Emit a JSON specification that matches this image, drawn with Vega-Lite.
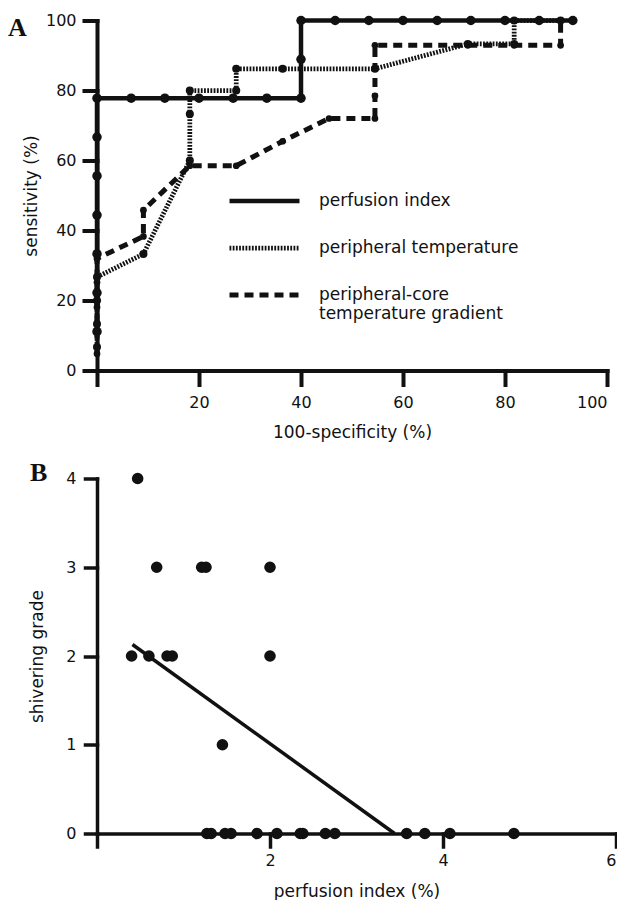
{
  "$schema": "https://vega.github.io/schema/vega-lite/v6.json",
  "background": "white",
  "padding": {"left": 8, "top": 10.5, "right": 0, "bottom": 0},
  "bounds": "flush",
  "spacing": 108,
  "config": {
    "view": {"stroke": null},
    "font": "DejaVu Sans",
    "axis": {
      "grid": false,
      "domainColor": "#111",
      "tickColor": "#111",
      "labelColor": "#111",
      "titleColor": "#111",
      "labelFont": "DejaVu Sans",
      "titleFont": "DejaVu Sans",
      "titleFontWeight": "normal",
      "domainCap": "square",
      "tickCap": "square"
    },
    "title": {"font": "Liberation Serif", "fontWeight": "bold", "fontSize": 26, "color": "#111", "anchor": "start", "frame": "group"}
  },
  "datasets": {
    "roc": [
      {"series": "perfusion index", "k": 1, "fpr": 0, "sens": 11.1},
      {"series": "perfusion index", "k": 2, "fpr": 0, "sens": 22.2},
      {"series": "perfusion index", "k": 3, "fpr": 0, "sens": 33.3},
      {"series": "perfusion index", "k": 4, "fpr": 0, "sens": 44.4},
      {"series": "perfusion index", "k": 5, "fpr": 0, "sens": 55.6},
      {"series": "perfusion index", "k": 6, "fpr": 0, "sens": 66.7},
      {"series": "perfusion index", "k": 7, "fpr": 0, "sens": 77.8},
      {"series": "perfusion index", "k": 8, "fpr": 6.7, "sens": 77.8},
      {"series": "perfusion index", "k": 9, "fpr": 13.3, "sens": 77.8},
      {"series": "perfusion index", "k": 10, "fpr": 20, "sens": 77.8},
      {"series": "perfusion index", "k": 11, "fpr": 26.7, "sens": 77.8},
      {"series": "perfusion index", "k": 12, "fpr": 33.3, "sens": 77.8},
      {"series": "perfusion index", "k": 13, "fpr": 40, "sens": 77.8},
      {"series": "perfusion index", "k": 14, "fpr": 40, "sens": 88.9},
      {"series": "perfusion index", "k": 15, "fpr": 40, "sens": 100},
      {"series": "perfusion index", "k": 16, "fpr": 46.7, "sens": 100},
      {"series": "perfusion index", "k": 17, "fpr": 53.3, "sens": 100},
      {"series": "perfusion index", "k": 18, "fpr": 60, "sens": 100},
      {"series": "perfusion index", "k": 19, "fpr": 66.7, "sens": 100},
      {"series": "perfusion index", "k": 20, "fpr": 73.3, "sens": 100},
      {"series": "perfusion index", "k": 21, "fpr": 80, "sens": 100},
      {"series": "perfusion index", "k": 22, "fpr": 86.7, "sens": 100},
      {"series": "perfusion index", "k": 23, "fpr": 93.3, "sens": 100},
      {"series": "peripheral temperature", "k": 1, "fpr": 0, "sens": 6.7},
      {"series": "peripheral temperature", "k": 2, "fpr": 0, "sens": 13.3},
      {"series": "peripheral temperature", "k": 3, "fpr": 0, "sens": 20},
      {"series": "peripheral temperature", "k": 4, "fpr": 0, "sens": 26.7},
      {"series": "peripheral temperature", "k": 5, "fpr": 9.1, "sens": 33.3},
      {"series": "peripheral temperature", "k": 6, "fpr": 18.2, "sens": 60},
      {"series": "peripheral temperature", "k": 7, "fpr": 18.2, "sens": 73.3},
      {"series": "peripheral temperature", "k": 8, "fpr": 18.2, "sens": 80},
      {"series": "peripheral temperature", "k": 9, "fpr": 27.3, "sens": 80},
      {"series": "peripheral temperature", "k": 10, "fpr": 27.3, "sens": 86.2},
      {"series": "peripheral temperature", "k": 11, "fpr": 36.4, "sens": 86.2},
      {"series": "peripheral temperature", "k": 12, "fpr": 54.5, "sens": 86.2},
      {"series": "peripheral temperature", "k": 13, "fpr": 72.7, "sens": 93.3},
      {"series": "peripheral temperature", "k": 14, "fpr": 81.8, "sens": 93.3},
      {"series": "peripheral temperature", "k": 15, "fpr": 81.8, "sens": 100},
      {"series": "peripheral temperature", "k": 16, "fpr": 90.9, "sens": 100},
      {"series": "peripheral-core temperature gradient", "k": 1, "fpr": 0, "sens": 4.8},
      {"series": "peripheral-core temperature gradient", "k": 2, "fpr": 0, "sens": 18.1},
      {"series": "peripheral-core temperature gradient", "k": 3, "fpr": 0, "sens": 25.2},
      {"series": "peripheral-core temperature gradient", "k": 4, "fpr": 0, "sens": 32},
      {"series": "peripheral-core temperature gradient", "k": 5, "fpr": 9.1, "sens": 38.3},
      {"series": "peripheral-core temperature gradient", "k": 6, "fpr": 9.1, "sens": 45.8},
      {"series": "peripheral-core temperature gradient", "k": 7, "fpr": 18.2, "sens": 58.5},
      {"series": "peripheral-core temperature gradient", "k": 8, "fpr": 27.3, "sens": 58.5},
      {"series": "peripheral-core temperature gradient", "k": 9, "fpr": 36.4, "sens": 65.5},
      {"series": "peripheral-core temperature gradient", "k": 10, "fpr": 45.5, "sens": 72},
      {"series": "peripheral-core temperature gradient", "k": 11, "fpr": 54.5, "sens": 72},
      {"series": "peripheral-core temperature gradient", "k": 12, "fpr": 54.5, "sens": 78.5},
      {"series": "peripheral-core temperature gradient", "k": 13, "fpr": 54.5, "sens": 92.9},
      {"series": "peripheral-core temperature gradient", "k": 14, "fpr": 72.7, "sens": 92.9},
      {"series": "peripheral-core temperature gradient", "k": 15, "fpr": 81.8, "sens": 92.9},
      {"series": "peripheral-core temperature gradient", "k": 16, "fpr": 90.9, "sens": 92.9},
      {"series": "peripheral-core temperature gradient", "k": 17, "fpr": 90.9, "sens": 100}
    ],
    "shiver": [
      {"pi": 0.47, "grade": 4},
      {"pi": 0.69, "grade": 3},
      {"pi": 1.21, "grade": 3},
      {"pi": 1.26, "grade": 3},
      {"pi": 2.0, "grade": 3},
      {"pi": 0.4, "grade": 2},
      {"pi": 0.6, "grade": 2},
      {"pi": 0.81, "grade": 2},
      {"pi": 0.87, "grade": 2},
      {"pi": 2.0, "grade": 2},
      {"pi": 1.45, "grade": 1},
      {"pi": 1.27, "grade": 0},
      {"pi": 1.32, "grade": 0},
      {"pi": 1.48, "grade": 0},
      {"pi": 1.55, "grade": 0},
      {"pi": 1.85, "grade": 0},
      {"pi": 2.08, "grade": 0},
      {"pi": 2.35, "grade": 0},
      {"pi": 2.38, "grade": 0},
      {"pi": 2.64, "grade": 0},
      {"pi": 2.75, "grade": 0},
      {"pi": 3.58, "grade": 0},
      {"pi": 3.79, "grade": 0},
      {"pi": 4.08, "grade": 0},
      {"pi": 4.82, "grade": 0}
    ],
    "fit": [
      {"pi": 0.41, "grade": 2.13},
      {"pi": 3.44, "grade": 0}
    ]
  },
  "vconcat": [
    {
      "title": {"text": "A", "dx": -89, "offset": -30, "baseline": "top"},
      "width": 510,
      "height": 350,
      "data": {"name": "roc"},
      "encoding": {
        "x": {
          "field": "fpr", "type": "quantitative",
          "scale": {"domain": [0, 100], "nice": false},
          "axis": {
            "values": [0, 20, 40, 60, 80, 100],
            "labelExpr": "datum.value == 0 ? '' : datum.label",
            "title": "100-specificity (%)",
            "domainWidth": 4, "tickWidth": 4, "tickSize": 14,
            "labelFontSize": 16, "labelPadding": 10,
            "titleFontSize": 17, "titlePadding": 14
          }
        },
        "y": {
          "field": "sens", "type": "quantitative",
          "scale": {"domain": [0, 100], "nice": false},
          "axis": {
            "values": [0, 20, 40, 60, 80, 100],
            "title": "sensitivity (%)",
            "domainWidth": 4, "tickWidth": 4, "tickSize": 13,
            "labelFontSize": 16, "labelPadding": 8,
            "titleFontSize": 17, "titlePadding": 5
          }
        }
      },
      "layer": [
        {
          "mark": {"type": "line", "color": "#111", "strokeCap": "butt"},
          "encoding": {
            "order": {"field": "k", "type": "quantitative"},
            "strokeDash": {
              "field": "series", "type": "nominal",
              "scale": {
                "domain": ["perfusion index", "peripheral temperature", "peripheral-core temperature gradient"],
                "range": [[1, 0], [1.8, 1.4], [9, 6]]
              },
              "legend": {
                "title": null,
                "orient": "none",
                "legendX": 130,
                "legendY": 143,
                "symbolType": "stroke",
                "symbolSize": 4900,
                "symbolStrokeColor": "#111",
                "labelFontSize": 17,
                "labelFont": "DejaVu Sans",
                "labelColor": "#111",
                "labelOffset": 17,
                "labelLimit": 300,
                "rowPadding": -40,
                "padding": 0,
                "labelExpr": "datum.label == 'peripheral-core temperature gradient' ? ['peripheral-core', 'temperature gradient'] : datum.label"
              }
            },
            "strokeWidth": {
              "field": "series", "type": "nominal",
              "scale": {
                "domain": ["perfusion index", "peripheral temperature", "peripheral-core temperature gradient"],
                "range": [4.5, 5, 2.5]
              }
            }
          }
        },
        {
          "transform": [{"filter": "datum.series == 'peripheral-core temperature gradient'"}],
          "mark": {"type": "point", "filled": true, "color": "#111", "opacity": 1, "size": 45}
        },
        {
          "transform": [{"filter": "datum.series == 'peripheral temperature'"}],
          "mark": {"type": "point", "filled": true, "color": "#111", "opacity": 1, "size": 65}
        },
        {
          "transform": [{"filter": "datum.series == 'perfusion index'"}],
          "mark": {"type": "point", "filled": true, "color": "#111", "opacity": 1, "size": 90}
        }
      ]
    },
    {
      "title": {"text": "B", "dx": -67, "offset": -15, "baseline": "top"},
      "width": 519,
      "height": 355,
      "encoding": {
        "x": {
          "field": "pi", "type": "quantitative",
          "scale": {"domain": [0, 6], "nice": false},
          "axis": {
            "values": [0, 2, 4, 6],
            "labelExpr": "datum.value == 0 ? '' : datum.label",
            "title": "perfusion index (%)",
            "domainWidth": 3.5, "tickWidth": 3.5, "tickSize": 13,
            "labelFontSize": 16, "labelPadding": 6,
            "titleFontSize": 17, "titlePadding": 15
          }
        },
        "y": {
          "field": "grade", "type": "quantitative",
          "scale": {"domain": [0, 4], "nice": false},
          "axis": {
            "values": [0, 1, 2, 3, 4],
            "title": "shivering grade",
            "domainWidth": 3.5, "tickWidth": 3.5, "tickSize": 12,
            "labelFontSize": 16, "labelPadding": 9,
            "titleFontSize": 17, "titlePadding": 19
          }
        }
      },
      "layer": [
        {
          "data": {"name": "fit"},
          "mark": {"type": "line", "color": "#111", "strokeWidth": 3.5}
        },
        {
          "data": {"name": "shiver"},
          "mark": {"type": "point", "filled": true, "color": "#111", "opacity": 1, "size": 135}
        }
      ]
    }
  ]
}
